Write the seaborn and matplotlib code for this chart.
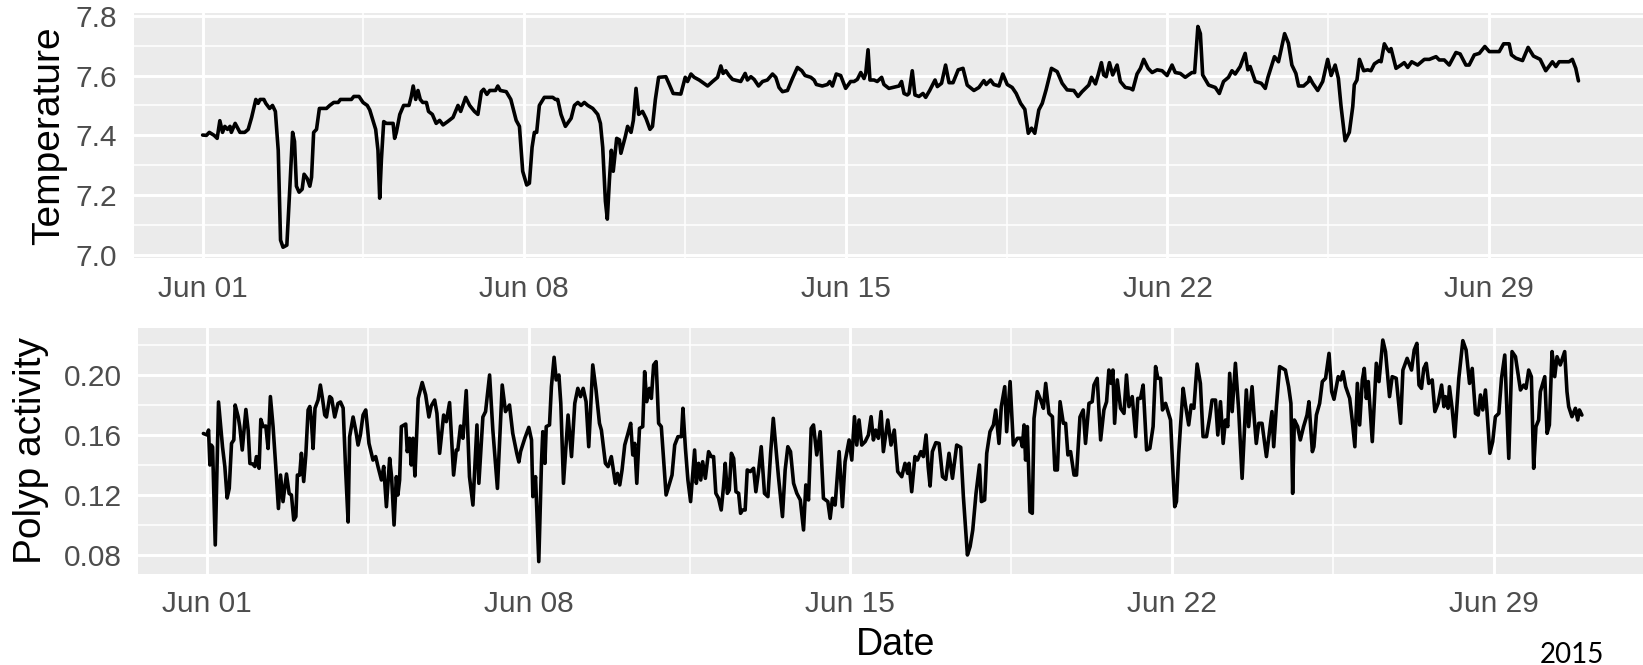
import numpy as np
import pandas as pd
import matplotlib
matplotlib.use("Agg")
import matplotlib.pyplot as plt
import matplotlib.dates as mdates
import seaborn as sns

# ---------------- data (hours since 2015-06-01 00:00) ----------------
temp_hours = [
    0, 2, 3.5, 6, 7.6, 9, 10.4, 11.6, 13, 14.3, 15, 17, 19.5, 22, 23.8, 25.6, 27.8, 29, 30, 32,
    33, 35, 36.5, 38, 39.5, 40.7, 42, 44, 45.6, 47, 48, 49, 50.4, 52, 53, 54.6, 56, 56.9, 58, 59.5,
    61, 64.7, 66.4, 68.5, 70.8, 72, 77.7, 79, 81.7, 83.8, 86, 87.3, 89, 90.4, 91.6, 92.5, 93.4, 94.6,
    96, 99.5, 100.3, 101.2, 103, 105, 107.8, 109, 110, 111.3, 112.5, 113.7, 115, 116.9, 118, 120,
    122, 123.8, 125.6, 128, 130.8, 133.4, 134.8, 137.4, 139.5, 142, 143.8, 145.6, 146.8, 148.5, 150,
    153, 154.2, 155.5, 158.6, 161, 163.8,
    165.5, 167.2, 169.3, 170.7, 172.1, 173.3, 174.5, 175.9, 178.5, 182.9, 184.3, 185.5, 187.2, 189.5,
    192.5, 194.2, 196, 197.7, 199.4, 201.2, 203.8, 206.4, 207.8, 209, 210.4, 211.4, 212.5, 213.5,
    214.5, 216.3, 217.7, 218.5, 220.8, 222, 223.8, 225, 226.4, 227.8, 229.8, 231.6, 233.7, 235, 236.5,
    238.2, 242, 243.8, 245.8, 249.8, 252.1, 253.3, 255.1, 256.8, 259.4, 263.8, 266.4, 269, 270.7,
    271.9, 273.3, 275, 276.8, 281.1, 283.4, 284.6, 286.4, 288.1, 290.4, 292.5, 295, 297.7, 299.4,
    301.1, 302.9, 305.5, 308.1, 310.7, 313, 314.7, 317.7, 319.4, 320.6, 323.7, 326.4, 327.6, 329, 331,
    333.3, 335.9, 338.5, 340.3, 342, 343.8, 345.5, 346.4, 347.6, 348.6, 350.7, 352.4, 354.7, 355.9,
    358.5, 363.8, 365.1, 366.4, 368.1,
    369.0, 370.7, 372.1, 374.2, 376.3, 377.7, 379.8, 382.6, 383.8, 386, 388.1, 389.9, 392, 394.7,
    397.2, 399.4, 402.9, 405.5, 408.1, 409.3, 411.6, 413.3, 416, 418, 420.3, 422.9, 425, 427.3, 429.5,
    431.3, 433, 434.7, 436.8, 438.6, 440.6, 443.4, 446.4, 449, 451.6, 455.1, 457.3, 459.4, 462.9,
    464.3, 466.4, 467.8, 469.5, 470.7, 472, 473.7, 475.4, 477.7, 479.4, 482, 484.6, 485.9, 488.1,
    489.9, 491.6, 493.9, 496, 498.6, 501.2, 503.8, 506.4, 508.1, 510.7, 513.3, 516.8, 518.2, 519.9,
    521.2, 522.4, 525.5, 529, 531.1, 533.3, 535.9, 537.7, 539.4, 542, 544.6, 546, 547.2, 549.9, 553,
    555.1, 556.5, 559.9, 562, 565.2, 567.2, 569, 571.1, 572.5, 575.1, 577.7,
    578.2, 579.9, 582.5, 585.1, 587.7, 589.5, 591.6, 593.3, 594.7, 596.8, 599, 600.8, 601.6, 603,
    604.3, 606.5, 608.6, 610.3, 612.1, 614.7, 615.6, 617.3, 618.7, 619.9, 620.8, 623.4, 626, 627.7,
    629.5, 631.6, 634.7, 638.2, 640.8, 644.3, 646, 648.6, 651.2, 654.7, 656.9, 659.9, 661.6, 664.3,
    666.9, 669.8, 672.1, 677.3, 679.6, 682.5, 683.7, 686, 689.5, 692.4, 695.2, 698.7, 701.6, 705.1,
    706.9, 708.6, 713.8, 715.5, 717.3, 718.7,
]
temp_values = [
    7.401, 7.40, 7.41, 7.40, 7.39, 7.449, 7.41, 7.43, 7.42, 7.43, 7.41, 7.44, 7.41, 7.41, 7.42, 7.46,
    7.52, 7.507, 7.52, 7.52, 7.507, 7.49, 7.50, 7.48, 7.35, 7.05, 7.026, 7.033, 7.23, 7.41, 7.38,
    7.23, 7.21, 7.22, 7.27, 7.256, 7.23, 7.26, 7.41, 7.42, 7.49, 7.49, 7.50, 7.51, 7.51, 7.52, 7.52,
    7.53, 7.53, 7.51, 7.50, 7.485, 7.45, 7.42, 7.35, 7.19, 7.32, 7.446, 7.44, 7.44, 7.39, 7.41, 7.47,
    7.50, 7.50, 7.53, 7.565, 7.52, 7.55, 7.52, 7.51, 7.51, 7.48, 7.47, 7.44, 7.45, 7.435, 7.446, 7.46,
    7.50, 7.48, 7.527, 7.50, 7.48, 7.47, 7.546, 7.554, 7.537, 7.55, 7.55, 7.565, 7.55, 7.546, 7.52,
    7.45,
    7.43, 7.28, 7.234, 7.24, 7.36, 7.41, 7.41, 7.50, 7.527, 7.527, 7.52, 7.52, 7.47, 7.43, 7.457,
    7.50, 7.51, 7.50, 7.51, 7.50, 7.49, 7.47, 7.44, 7.36, 7.18, 7.12, 7.25, 7.35, 7.28, 7.39, 7.385,
    7.34, 7.396, 7.43, 7.41, 7.45, 7.557, 7.47, 7.48, 7.457, 7.42, 7.43, 7.52, 7.594, 7.596, 7.57,
    7.54, 7.538, 7.594, 7.58, 7.605, 7.594, 7.585, 7.565, 7.58, 7.594, 7.632, 7.607, 7.616, 7.60,
    7.587, 7.58, 7.607, 7.585, 7.596, 7.587, 7.565, 7.58, 7.585, 7.605, 7.594, 7.56, 7.546, 7.55,
    7.59, 7.627, 7.616, 7.60, 7.594, 7.585, 7.57, 7.565, 7.57, 7.58, 7.565, 7.605, 7.60, 7.557, 7.58,
    7.58, 7.587, 7.61, 7.59, 7.607, 7.686, 7.585, 7.585, 7.58, 7.594, 7.57, 7.557, 7.565, 7.58, 7.54,
    7.535,
    7.54, 7.616, 7.535, 7.53, 7.54, 7.527, 7.55, 7.585, 7.563, 7.574, 7.635, 7.576, 7.576, 7.619,
    7.624, 7.568, 7.55, 7.56, 7.583, 7.57, 7.585, 7.57, 7.565, 7.605, 7.57, 7.56, 7.54, 7.507, 7.487,
    7.407, 7.424, 7.407, 7.485, 7.507, 7.552, 7.624, 7.613, 7.574, 7.552, 7.55, 7.53, 7.546, 7.568,
    7.594, 7.572, 7.602, 7.643, 7.602, 7.596, 7.643, 7.602, 7.635, 7.58, 7.56, 7.557, 7.552, 7.605,
    7.624, 7.654, 7.624, 7.61, 7.619, 7.616, 7.60, 7.635, 7.61, 7.607, 7.594, 7.61, 7.61, 7.764,
    7.74, 7.602, 7.568, 7.56, 7.54, 7.58, 7.594, 7.616, 7.605, 7.63, 7.674, 7.619, 7.63, 7.58, 7.574,
    7.557, 7.594, 7.663, 7.646, 7.74, 7.708, 7.635, 7.607, 7.565, 7.565, 7.58,
    7.594, 7.574, 7.55, 7.58, 7.654, 7.60, 7.635, 7.59, 7.496, 7.382, 7.41, 7.496, 7.569, 7.585,
    7.654, 7.616, 7.619, 7.616, 7.639, 7.65, 7.646, 7.706, 7.69, 7.68, 7.69, 7.624, 7.635, 7.643,
    7.627, 7.646, 7.635, 7.654, 7.654, 7.663, 7.652, 7.652, 7.635, 7.677, 7.672, 7.635, 7.635, 7.669,
    7.674, 7.697, 7.68, 7.68, 7.706, 7.706, 7.669, 7.658, 7.65, 7.694, 7.665, 7.654, 7.616, 7.646,
    7.63, 7.646, 7.646, 7.654, 7.624, 7.582,
]

polyp_hours = [
    -2.0, 0.0, 0.7, 1.4, 2.1, 2.8, 4.2, 5.9, 8.0, 9.2, 10.4, 11.5, 12.7, 13.9, 14.6, 16.2, 17.0, 18.3,
    20.2, 21.4, 22.3, 23.7, 24.9, 25.7, 27.1, 28.0, 29.2, 30.6, 31.8, 33.0, 34.4, 35.8, 37.2, 38.3,
    39.6, 41.4, 42.8, 44.0, 45.2, 46.3, 47.1, 48.3, 49.2, 50.4, 51.5, 52.7, 53.6, 54.4, 55.3, 56.3,
    57.9, 59.1, 60.2, 61.4, 62.3, 64.0, 65.0, 66.6, 68.3, 69.6, 71.0, 72.3, 73.6, 74.4, 76.2, 77.6,
    78.8, 80.0, 81.4, 82.8, 84.5, 86.6, 88.0, 89.2, 91.0, 92.2, 93.6, 95.3, 96.3, 97.6, 98.8, 99.6,
    100.5, 101.4, 103.7, 104.5, 105.7, 106.6, 107.5, 108.5, 110.2, 112.3, 114.1, 115.8, 117.0, 118.8,
    120.0, 121.4, 123.5, 124.9, 126.6, 128.7, 130.1, 130.9, 132.3, 133.6, 135.3, 137.0, 138.8, 140.9,
    141.9, 144.0, 145.4, 147.5, 149.2, 151.6, 154.1, 155.8, 157.9, 159.6, 161.7,
    162.8, 163.7, 165.9, 168.0, 169.4, 170.1, 171.5, 173.2, 174.6, 175.3, 176.4, 177.1, 178.8, 179.8,
    181.2, 182.3, 183.7, 184.7, 186.1, 188.5, 190.3, 192.0, 193.6, 195.0, 196.4, 197.9, 199.3, 201.4,
    203.1, 204.9, 205.9, 208.0, 209.4, 211.1, 213.2, 214.3, 215.5, 216.7, 218.1, 219.8, 221.2, 222.3,
    223.3, 224.4, 225.8, 227.5, 228.5, 229.6, 231.0, 232.0, 233.2, 234.5, 235.8, 237.2, 239.7, 241.0,
    242.8, 244.2, 245.9, 247.7, 248.5, 249.8, 251.1, 252.5, 254.6, 255.5, 256.7, 257.8, 258.8, 260.2,
    261.9, 263.3, 264.5, 265.7, 267.1, 268.5, 269.7, 270.6, 271.7, 272.7, 273.8, 275.0, 276.2, 277.6,
    278.6, 279.7, 281.0, 282.1, 283.7, 285.4, 286.6, 288.0, 289.4, 291.1, 292.9, 294.3, 295.7, 297.0,
    298.4, 300.5, 301.9, 303.3, 304.7, 306.3, 308.0, 309.8, 311.5, 312.7, 314.1, 315.5, 316.7, 318.4,
    320.2, 321.9, 324.2, 325.4, 326.6, 328.0, 330.1, 331.8, 333.2, 335.3, 336.7, 338.1, 339.3, 340.5,
    341.9, 343.7, 345.4, 346.8, 348.0, 349.2, 350.6, 352.0, 353.2, 355.5, 357.2, 358.9, 360.7, 362.8,
    364.5, 365.9, 366.6, 368.0, 369.7,
    371.0, 372.8, 374.1, 375.5, 376.6, 377.6, 378.8, 380.6, 382.3, 384.1, 385.8, 387.5, 389.3, 391.5,
    393.6, 395.0, 397.1, 398.5, 399.9, 401.6, 403.4, 404.4, 406.1, 407.2, 408.9, 410.7, 411.9, 413.6,
    414.8, 416.6, 417.6, 419.4, 421.1, 423.2, 424.9, 425.8, 426.7, 427.5, 428.4, 429.8, 431.0, 431.9,
    433.6, 435.4, 436.8, 438.0, 439.7, 441.5, 442.8, 444.1, 445.5, 447.2, 448.4, 449.6, 451.0, 452.8,
    454.1, 455.9, 457.6, 458.8, 460.6, 462.3, 463.2, 464.9, 466.7, 468.4, 469.8, 471.0, 472.2, 473.1,
    474.0, 475.4, 477.1, 478.9, 480.2, 481.5, 483.2, 485.0, 486.1, 487.5, 488.9, 490.7, 492.4, 494.1,
    495.4, 496.6, 498.0, 499.0, 500.6, 503.2, 504.6, 505.4, 506.3, 507.5, 508.4, 509.8, 511.0, 512.7,
    514.0, 515.4, 517.1, 518.8, 520.2, 522.0, 523.7, 524.9, 526.7, 527.9, 529.3, 530.7, 531.9, 533.1,
    534.1, 535.4, 537.1, 538.8, 540.6, 542.8, 544.0, 545.8, 547.0, 548.0, 549.3, 551.0, 553.3, 555.0,
    556.2, 557.1, 558.5, 560.2, 563.2, 564.9, 566.1, 567.0, 567.9, 569.6, 571.0, 572.7, 574.5,
    575.5, 577.3, 578.1, 579.4, 581.1, 582.5, 584.2, 586.0, 587.4, 588.6, 590.8, 592.1, 593.3, 594.7,
    596.8, 598.1, 599.5, 600.8, 602.0, 603.4, 604.4, 605.5, 606.5, 608.6, 610.7, 612.1, 614.1, 615.5,
    617.6, 619.0, 621.1, 623.4, 624.6, 626.8, 629.1, 630.5, 631.9, 633.0, 634.3, 635.5, 636.8, 638.1,
    639.9, 641.3, 643.0, 644.8, 646.0, 646.8, 648.2, 648.9, 650.3, 651.7, 653.8, 655.9, 657.6, 659.4,
    660.8, 662.5, 663.9, 665.1, 666.3, 667.7, 668.6, 670.0, 671.5, 672.9, 674.7, 676.1, 677.8, 679.9,
    681.6, 683.4, 686.0, 687.7, 688.9, 690.3, 691.7, 692.9, 694.1, 695.5, 696.4, 698.7, 699.9, 701.1,
    702.5, 703.9, 705.1, 706.8, 709.1, 710.3, 711.2, 712.9, 714.7, 715.9, 716.8, 718.1,
]
polyp_values = [
    0.161, 0.160, 0.1633, 0.140, 0.1533, 0.152, 0.0867, 0.182, 0.152, 0.139, 0.118, 0.1244, 0.1544,
    0.1567, 0.180, 0.172, 0.1656, 0.150, 0.177, 0.163, 0.141, 0.1407, 0.139, 0.1456, 0.1378, 0.1704,
    0.1656, 0.166, 0.151, 0.1856, 0.1656, 0.139, 0.111, 0.1333, 0.1156, 0.134, 0.121, 0.120, 0.1033,
    0.1056, 0.1333, 0.1333, 0.1478, 0.129, 0.1467, 0.1767, 0.179, 0.170, 0.151, 0.1778, 0.1833,
    0.1933, 0.1844, 0.1733, 0.172, 0.1856, 0.1844, 0.172, 0.181, 0.182, 0.178, 0.137, 0.102, 0.1589,
    0.172, 0.163, 0.1533, 0.160, 0.1733, 0.1767, 0.1544, 0.1433, 0.1456, 0.139, 0.130, 0.139, 0.1122,
    0.1444, 0.1322, 0.100, 0.1322, 0.120, 0.130, 0.1656, 0.1673, 0.1489, 0.1578, 0.140, 0.1578,
    0.1327, 0.1844, 0.195, 0.1867, 0.172, 0.1793, 0.1833, 0.1744, 0.1478, 0.1733, 0.1689, 0.1816,
    0.1333, 0.150, 0.150, 0.166, 0.1578, 0.1896, 0.1322, 0.1133, 0.1667, 0.1278, 0.172, 0.1756, 0.200,
    0.1633, 0.1244, 0.1933, 0.1756, 0.180, 0.1611, 0.1478,
    0.142, 0.149, 0.1578, 0.1651, 0.1567, 0.1189, 0.1322, 0.0756, 0.1411, 0.1622, 0.1411, 0.1656,
    0.1667, 0.1922, 0.2118, 0.1967, 0.200, 0.1811, 0.1278, 0.1733, 0.1456, 0.1811, 0.1911, 0.1856,
    0.1911, 0.1822, 0.1522, 0.2067, 0.190, 0.1678, 0.1633, 0.1411, 0.1389, 0.1456, 0.1278, 0.1344,
    0.1267, 0.1367, 0.1533, 0.1611, 0.1678, 0.1467, 0.1544, 0.1278, 0.1644, 0.1656, 0.2022, 0.1822,
    0.1911, 0.1844, 0.2067, 0.2089, 0.1678, 0.1656, 0.120, 0.1256, 0.1333, 0.1533, 0.1589, 0.1589,
    0.1778, 0.1511, 0.130, 0.1156, 0.150, 0.1278, 0.1411, 0.130, 0.1422, 0.1311, 0.1489, 0.1456,
    0.1456, 0.1211, 0.1178, 0.110, 0.1256, 0.1411, 0.1211, 0.1233, 0.1478, 0.1444, 0.1222, 0.1211,
    0.1078, 0.110, 0.110, 0.1367, 0.1356, 0.1378, 0.1222, 0.1356, 0.1522, 0.1211, 0.1189, 0.1478,
    0.1711, 0.1522, 0.1322, 0.1056, 0.1367, 0.1522, 0.1489, 0.1278, 0.1211, 0.1167, 0.0967, 0.1267,
    0.1167, 0.1644, 0.1667, 0.1467, 0.1622, 0.1178, 0.1156, 0.1044, 0.1178, 0.1133, 0.1489, 0.1122,
    0.1422, 0.1567, 0.1433, 0.1722, 0.1533, 0.170, 0.1533, 0.1556, 0.160, 0.1722, 0.1567, 0.1633,
    0.1578, 0.1756, 0.1489, 0.170, 0.1533, 0.1633, 0.1356, 0.1322, 0.1411, 0.1344, 0.1411, 0.1222,
    0.1456,
    0.1433, 0.1489, 0.1456, 0.160, 0.1389, 0.126, 0.1489, 0.1549, 0.1544, 0.1322, 0.1304, 0.1478,
    0.1311, 0.1533, 0.1518, 0.1189, 0.080, 0.0856, 0.0967, 0.1211, 0.140, 0.1156, 0.1167, 0.1478,
    0.1622, 0.1667, 0.1767, 0.1544, 0.1789, 0.1922, 0.1622, 0.1956, 0.1533, 0.1578, 0.1578, 0.1522,
    0.1667, 0.1433, 0.1656, 0.1089, 0.1078, 0.1711, 0.1889, 0.1833, 0.1778, 0.1944, 0.1744, 0.1722,
    0.1367, 0.1367, 0.1822, 0.1678, 0.1678, 0.1467, 0.1489, 0.1333, 0.1333, 0.172, 0.1767, 0.1544,
    0.1811, 0.1822, 0.1933, 0.1978, 0.1567, 0.1767, 0.1822, 0.2033, 0.1944, 0.2033, 0.1678, 0.1967,
    0.1778, 0.1744, 0.200, 0.1789, 0.1856, 0.1589, 0.1844, 0.1844, 0.1933, 0.150, 0.1511, 0.1656,
    0.2056, 0.1978, 0.1978, 0.1767, 0.1811, 0.170, 0.1322, 0.1122, 0.1156, 0.1478, 0.1656, 0.1911,
    0.180, 0.1667, 0.180, 0.1778, 0.2073, 0.1944, 0.1589, 0.1589, 0.172, 0.1833, 0.1833, 0.160,
    0.1822, 0.1544, 0.170, 0.1656, 0.2011, 0.1756, 0.2078, 0.1767, 0.1311, 0.190, 0.1656, 0.1922,
    0.170, 0.1544, 0.1678, 0.1678, 0.1456, 0.1633, 0.1756, 0.1522, 0.1789, 0.2056, 0.2033, 0.1922,
    0.1811, 0.1211, 0.170, 0.1656, 0.1567, 0.1656, 0.1733,
    0.1822, 0.1489, 0.1522, 0.1733, 0.1811, 0.1956, 0.1978, 0.2144, 0.1889, 0.1838, 0.1989, 0.1967,
    0.2022, 0.1922, 0.1844, 0.170, 0.1522, 0.1944, 0.1667, 0.1967, 0.2044, 0.1844, 0.1956, 0.1556,
    0.2078, 0.1956, 0.2233, 0.2156, 0.1856, 0.1989, 0.1978, 0.1678, 0.2033, 0.2111, 0.2033, 0.2167,
    0.2211, 0.1933, 0.1911, 0.2044, 0.2078, 0.1944, 0.1967, 0.1756, 0.1811, 0.1933, 0.1789, 0.1856,
    0.1778, 0.1922, 0.1778, 0.1589, 0.1978, 0.2229, 0.2167, 0.1944, 0.2044, 0.1744, 0.1733, 0.1867,
    0.1767, 0.190, 0.1744, 0.1478, 0.1556, 0.1722, 0.1744, 0.1978, 0.2133, 0.1444, 0.2156, 0.2122,
    0.190, 0.1933, 0.1911, 0.2033, 0.1989, 0.1378, 0.1656, 0.170, 0.1889, 0.1989, 0.1611, 0.1667,
    0.2156, 0.1989, 0.2122, 0.2067, 0.2156, 0.1889, 0.1789, 0.1722, 0.1778, 0.170, 0.1767, 0.1733,
]

start_date = "2015-06-01"
tick_dates = ["2015-06-01", "2015-06-08", "2015-06-15", "2015-06-22", "2015-06-29"]
tick_labels = ["Jun 01", "Jun 08", "Jun 15", "Jun 22", "Jun 29"]
temp_ticks = [7.0, 7.2, 7.4, 7.6, 7.8]
temp_tick_labels = ["7.0", "7.2", "7.4", "7.6", "7.8"]
polyp_ticks = [0.08, 0.12, 0.16, 0.20]
polyp_tick_labels = ["0.08", "0.12", "0.16", "0.20"]

# ---------------- style ----------------
sns.set_style("darkgrid", {"axes.facecolor": "#EBEBEB", "grid.color": "white"})
plt.rcParams["font.family"] = ["Liberation Sans", "DejaVu Sans"]

t0 = pd.Timestamp(start_date)
temp_df = pd.DataFrame({"Date": t0 + pd.to_timedelta(temp_hours, unit="h"),
                        "Temperature": temp_values})
polyp_df = pd.DataFrame({"Date": t0 + pd.to_timedelta(polyp_hours, unit="h"),
                         "Polyp activity": polyp_values})

W, H = 1643, 665
fig = plt.figure(figsize=(W / 100, H / 100), dpi=100)
fig.patch.set_facecolor("white")

px_day = 46.0
x_lo, x_hi = -1.5, 31.46
ax_w = (x_hi - x_lo) * px_day / W

ax1 = fig.add_axes([133.7 / W, 1 - 258.0 / H, ax_w, 245.3 / H])
ax2 = fig.add_axes([138.3 / W, 1 - 573.75 / H, ax_w, 246.0 / H])

sns.lineplot(data=temp_df, x="Date", y="Temperature", ax=ax1, color="black",
             linewidth=2.6, estimator=None, sort=False)
sns.lineplot(data=polyp_df, x="Date", y="Polyp activity", ax=ax2, color="black",
             linewidth=2.6, estimator=None, sort=False)

xmin = t0 + pd.Timedelta(days=x_lo)
xmax = t0 + pd.Timedelta(days=x_hi)
major_x = [pd.Timestamp(d) for d in tick_dates]
minor_x = [d + pd.Timedelta(hours=84) for d in major_x]

for ax, yticks, ylabs, ylim, yminor in [
    (ax1, temp_ticks, temp_tick_labels, (6.99, 7.81), [7.1, 7.3, 7.5, 7.7]),
    (ax2, polyp_ticks, polyp_tick_labels, (0.0675, 0.2315), [0.10, 0.14, 0.18, 0.22]),
]:
    ax.set_xlim(xmin, xmax)
    ax.set_ylim(*ylim)
    ax.set_xticks(major_x)
    ax.set_xticklabels(tick_labels)
    ax.set_xticks(minor_x, minor=True)
    ax.set_yticks(yticks)
    ax.set_yticklabels(ylabs)
    ax.set_yticks(yminor, minor=True)
    ax.grid(which="major", color="white", linewidth=2.1)
    ax.grid(which="minor", color="white", linewidth=1.1)
    ax.set_axisbelow(True)
    for s in ax.spines.values():
        s.set_visible(False)
    ax.tick_params(which="major", length=6.8, width=2.0, color="#333333",
                   labelcolor="#4D4D4D", labelsize=21.5, pad=5.2)
    ax.tick_params(which="minor", length=0)
    ax.set_xlabel("")

ax1.set_ylabel("Temperature", fontsize=28, color="black")
ax2.set_ylabel("Polyp activity", fontsize=28, color="black")
ax1.yaxis.set_label_coords((67 - 133.7) / (ax_w * W), 0.5)
ax2.yaxis.set_label_coords((49 - 138.3) / (ax_w * W), 0.5)

ax2.set_xlabel("Date", fontsize=27, color="black")
ax2.xaxis.set_label_coords((896 - 138.3) / (ax_w * W), -(627 - 573.75) / 246.0)

fig.text(1572 / W, 1 - 655 / H, "2015", fontsize=20, family=["Lato", "DejaVu Sans"],
         ha="center", va="center", color="black")

fig.savefig("out.png", dpi=100, facecolor="white")
